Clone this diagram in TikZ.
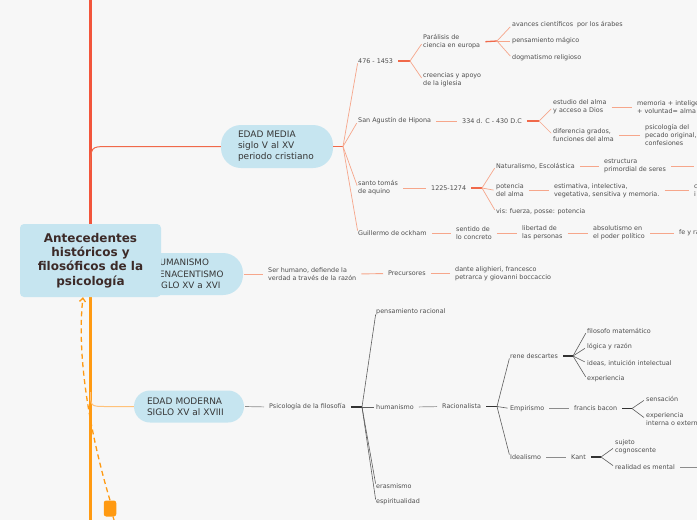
\documentclass[tikz,border=0pt]{standalone}
\usepackage{fontspec}
\setmainfont{DejaVu Sans}
\usetikzlibrary{arrows.meta}
\definecolor{bg}{HTML}{F7F7F7}
\definecolor{nodeblue}{HTML}{C6E5F0}
\definecolor{roottxt}{HTML}{3C2A28}
\definecolor{midtxt}{HTML}{363636}
\definecolor{smtxt}{HTML}{4E4E4E}
\definecolor{trunkred}{HTML}{F2553B}
\definecolor{trunkor}{HTML}{FF9A12}
\definecolor{salmon}{HTML}{F6A68B}
\definecolor{salmondk}{HTML}{F0694A}
\definecolor{modcurve}{HTML}{FFC27A}
\definecolor{greyl}{HTML}{8C8C8C}
\definecolor{greyfan}{HTML}{5E5E5E}
\definecolor{darkl}{HTML}{333333}
\tikzset{
  stxt/.style={anchor=west, inner xsep=0pt, inner ysep=1pt, font=\fontsize{6.4}{8}\selectfont, text=smtxt, align=left},
  pillnode/.style={fill=nodeblue, rounded corners=#1, text=midtxt, align=left, font=\fontsize{9}{11}\selectfont, inner ysep=0pt},
  medl/.style={draw=salmon, line width=0.9pt, shorten <=5pt, shorten >=5pt},
  medfan/.style={draw=salmon, line width=0.7pt, shorten >=2.5pt},
  medjn/.style={draw=salmondk, line width=1.3pt, shorten <=5pt},
  grl/.style={draw=greyl, line width=0.7pt, shorten <=5pt, shorten >=5pt},
  grfan/.style={draw=greyfan, line width=0.6pt, shorten >=2.5pt},
  grjn/.style={draw=darkl, line width=1.4pt, shorten <=5pt},
}
\begin{document}
\begin{tikzpicture}[x=1pt,y=-1pt]
\fill[bg] (0,0) rectangle (697,520);
\useasboundingbox (0,0) rectangle (697,520);
\clip (0,0) rectangle (697,520);

% coordinates for trunk
\coordinate (rtop) at (90.5,-3);
\coordinate (obot) at (90.5,523);
\coordinate (cmed) at (90.5,170);
\coordinate (cmod) at (90.5,392);

% ---------- EDAD MEDIA ----------
\node[pillnode=20pt, minimum width=112pt, minimum height=43pt, text width=78pt, inner xsep=17pt] (media) at (277,146.5) {EDAD MEDIA\\siglo V al XV\\periodo cristiano};
\coordinate (jm) at (343,146.5);

\node[stxt] (a1) at (358,61) {476 - 1453};
\node[stxt] (a1a) at (423,42) {Parálisis de\\ciencia en europa};
\node[stxt] (a1b) at (423,80) {creencias y apoyo\\de la iglesia};
\node[stxt] (a1a1) at (512,25) {avances científicos \ por los árabes};
\node[stxt] (a1a2) at (512,41) {pensamiento mágico};
\node[stxt] (a1a3) at (512,58) {dogmatismo religioso};
\coordinate (j1) at (410,61);
\coordinate (j1a) at (497,41);

\node[stxt] (a2) at (358,121) {San Agustín de Hipona};
\node[stxt] (a2a) at (462,121) {334 d. C - 430 D.C};
\coordinate (j2) at (539,121);
\node[stxt] (a2a1) at (553,107) {estudio del alma\\y acceso a Dios};
\node[stxt] (a2a2) at (553,135) {diferencia grados,\\funciones del alma};
\node[stxt] (a2a1a) at (637,107) {memoria + inteligencia\\+ voluntad= alma};
\node[stxt] (a2a2a) at (645,135) {psicología del\\pecado original,\\confesiones};

\node[stxt] (a3) at (358,188) {santo tomás\\de aquino};
\node[stxt] (a3a) at (431,188) {1225-1274};
\coordinate (j3) at (482,188);
\node[stxt] (a3a1) at (496,166) {Naturalismo, Escolástica};
\node[stxt] (a3a2) at (496,190.5) {potencia\\del alma};
\node[stxt] (a3a3) at (496,212) {vis: fuerza, posse: potencia};
\node[stxt] (a3a1a) at (604,166) {estructura\\primordial de seres};
\coordinate (off1) at (699,166);
\node[stxt] (a3a2a) at (554,190.5) {estimativa, intelectiva,\\vegetativa, sensitiva y memoria.};
\node[stxt] (a3a2b) at (694,190.5) {c\\i};

\node[stxt] (a4) at (358,233) {Guillermo de ockham};
\node[stxt] (a4a) at (456,233) {sentido de\\lo concreto};
\node[stxt] (a4b) at (522,233) {libertad de\\las personas};
\node[stxt] (a4c) at (593,233) {absolutismo en\\el poder político};
\node[stxt] (a4d) at (679,233) {fe y razón};

% ---------- HUMANISMO ----------
\node[pillnode=20pt, minimum width=106pt, minimum height=42pt, text width=74pt, inner xsep=16pt, font=\fontsize{8.8}{11.5}\selectfont] (hum) at (190,274) {HUMANISMO\\RENACENTISMO\\SIGLO XV a XVI};
\node[stxt] (h1) at (268,274) {Ser humano, defiende la\\verdad a través de la razón};
\node[stxt] (h2) at (388,273.5) {Precursores};
\node[stxt] (h3) at (455,273.5) {dante alighieri, francesco\\petrarca y giovanni boccaccio};

% ---------- EDAD MODERNA ----------
\node[pillnode=16pt, minimum width=110pt, minimum height=32pt, text width=84pt, inner xsep=13pt] (mod) at (189,406.5) {EDAD MODERNA\\SIGLO XV al XVIII};
\node[stxt] (m1) at (269,407) {Psicología de la filosofía};
\coordinate (jm1) at (362,407);
\node[stxt] (m1a) at (376,312) {pensamiento racional};
\node[stxt] (m1b) at (376,407) {humanismo};
\node[stxt] (m1c) at (376,486) {erasmismo};
\node[stxt] (m1d) at (376,502) {espiritualidad};
\node[stxt] (rac) at (442,406.5) {Racionalista};
\coordinate (jr) at (497,406.5);
\node[stxt] (r1) at (510,356) {rene descartes};
\node[stxt] (r2) at (510,408.5) {Empirismo};
\node[stxt] (r3) at (510,457) {Idealismo};
\coordinate (jd) at (573,356);
\node[stxt] (d1) at (587,331) {filosofo matemático};
\node[stxt] (d2) at (587,347) {lógica y razón};
\node[stxt] (d3) at (587,363) {ideas, intuición intelectual};
\node[stxt] (d4) at (587,379) {experiencia};
\node[stxt] (e1) at (574,408.5) {francis bacon};
\coordinate (je) at (632,408.5);
\node[stxt] (e1a) at (646,399) {sensación};
\node[stxt] (e1b) at (646,419) {experiencia\\interna o externa};
\node[stxt] (k1) at (571,457) {Kant};
\coordinate (jk) at (601,457);
\node[stxt] (k1a) at (615,447) {sujeto\\cognoscente};
\node[stxt] (k1b) at (615,467) {realidad es mental};
\coordinate (off2) at (702,467);

% ---------- connectors ----------
% trunk
\draw[trunkred, line width=2.3pt] (rtop) -- (90.5,260);
\draw[trunkor, line width=2.8pt] (90.5,260) -- (obot);
\draw[salmondk, line width=1pt] (cmed) .. controls (90.5,146.5) .. (108,146.5) -- (media.west);
\draw[modcurve, line width=1pt] (cmod) .. controls (90.5,406.5) .. (107,406.5) -- (mod.west);

% EDAD MEDIA
\draw[medjn, shorten <=0pt] (media.east) -- (jm);
\foreach \t in {a1,a2,a3,a4} \draw[medfan] (jm) -- (\t.west);
\draw[medjn] (a1.east) -- (j1);
\draw[medfan] (j1) -- (a1a.west);
\draw[medfan] (j1) -- (a1b.west);
\draw[medjn] (a1a.east) -- (j1a);
\foreach \t in {a1a1,a1a2,a1a3} \draw[medfan] (j1a) -- (\t.west);
\draw[medl] (a2.east) -- (a2a.west);
\draw[medjn] (a2a.east) -- (j2);
\draw[medfan] (j2) -- (a2a1.west);
\draw[medfan] (j2) -- (a2a2.west);
\draw[medl] (a2a1.east) -- (a2a1a.west);
\draw[medl] (a2a2.east) -- (a2a2a.west);
\draw[medl] (a3.east) -- (a3a.west);
\draw[medjn] (a3a.east) -- (j3);
\foreach \t in {a3a1,a3a2,a3a3} \draw[medfan] (j3) -- (\t.west);
\draw[medl] (a3a1.east) -- (a3a1a.west);
\draw[medl] (a3a1a.east) -- (off1);
\draw[medl] (a3a2.east) -- (a3a2a.west);
\draw[medl] (a3a2a.east) -- (a3a2b.west);
\draw[medl] (a4.east) -- (a4a.west);
\draw[medl] (a4a.east) -- (a4b.west);
\draw[medl] (a4b.east) -- (a4c.west);
\draw[medl] (a4c.east) -- (a4d.west);

% HUMANISMO
\draw[medl, shorten <=1pt] (hum.east) -- (h1.west);
\draw[medl] (h1.east) -- (h2.west);
\draw[medl] (h2.east) -- (h3.west);

% EDAD MODERNA
\draw[grl, shorten <=1pt] (mod.east) -- (m1.west);
\draw[grjn] (m1.east) -- (jm1);
\foreach \t in {m1a,m1b,m1c,m1d} \draw[grfan] (jm1) -- (\t.west);
\draw[grl] (m1b.east) -- (rac.west);
\draw[grjn] (rac.east) -- (jr);
\foreach \t in {r1,r2,r3} \draw[grfan] (jr) -- (\t.west);
\draw[grjn] (r1.east) -- (jd);
\foreach \t in {d1,d2,d3,d4} \draw[grfan] (jd) -- (\t.west);
\draw[grl] (r2.east) -- (e1.west);
\draw[grjn] (e1.east) -- (je);
\draw[grfan] (je) -- (e1a.west);
\draw[grfan] (je) -- (e1b.west);
\draw[grl] (r3.east) -- (k1.west);
\draw[grjn] (k1.east) -- (jk);
\draw[grfan] (jk) -- (k1a.west);
\draw[grfan] (jk) -- (k1b.west);
\draw[grl] (k1b.east) -- (off2);

% central node
\node[fill=nodeblue, rounded corners=4pt, minimum width=141pt, minimum height=73pt, align=center, text=roottxt, font=\fontsize{12}{14.3}\selectfont\bfseries, inner sep=0pt] (root) at (90.5,260.5) {Antecedentes\\históricos y\\filosóficos de la\\psicología};

% note and dashed arrow
\node[fill=trunkor, rounded corners=2.5pt, minimum width=12.5pt, minimum height=16pt, inner sep=0pt] (note) at (110,508.5) {};
\coordinate (tail) at (115,523);
\draw[trunkor, line width=1.2pt] ([xshift=3pt]note.south) -- (tail);
\draw[trunkor, line width=1.3pt, dash pattern=on 5pt off 3.5pt, -{Straight Barb[length=3.5pt,width=6pt]}] (note.north) .. controls (92,440) and (76,360) .. ([xshift=-7.5pt]root.south);
\end{tikzpicture}
\end{document}
